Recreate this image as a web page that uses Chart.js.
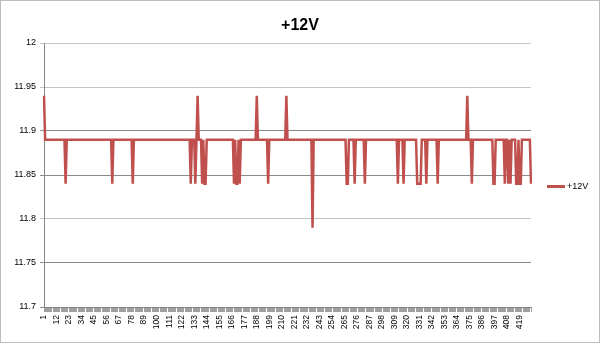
<!DOCTYPE html>
<html>
<head>
<meta charset="utf-8">
<script src="https://cdn.jsdelivr.net/npm/chart.js@4"></script>
<style>
  body { margin: 0; background: #fff; }
  #wrap { position: relative; width: 600px; height: 343px; font-family: "Liberation Sans", Arial, sans-serif; }
  #frame { position: absolute; left: 0; top: 0; width: 600px; height: 343px; box-sizing: border-box; border: 1px solid #bcbcbc; pointer-events: none; }
  #title { position: absolute; left: 0; width: 600px; top: 16px; text-align: center; font-weight: bold; font-size: 16px; color: #000; }
  #legend { position: absolute; left: 547px; top: 181px; font-size: 9px; color: #000; white-space: nowrap; }
  #legend .swatch { display: inline-block; width: 18px; height: 2.5px; background: #C0504D; vertical-align: middle; margin-right: 2px; }
</style>
</head>
<body>
<div id="wrap">
  <canvas id="myLineChart" width="600" height="343"></canvas>
  <div id="title">+12V</div>
  <div id="legend"><span class="swatch"></span>+12V</div>
  <div id="frame"></div>
</div>
<script>
// readings
const H = 11.94, B = 11.89, L = 11.84, M = 11.79;

const seriesName = '+12V';
const values = [
  H, B, B, B, B, B, B, B, B, B,   // 0
  B, B, B, B, B, B, B, B, B, L,   // 10
  B, B, B, B, B, B, B, B, B, B,   // 20
  B, B, B, B, B, B, B, B, B, B,   // 30
  B, B, B, B, B, B, B, B, B, B,   // 40
  B, B, B, B, B, B, B, B, B, B,   // 50
  L, B, B, B, B, B, B, B, B, B,   // 60
  B, B, B, B, B, B, B, B, L, B,   // 70
  B, B, B, B, B, B, B, B, B, B,   // 80
  B, B, B, B, B, B, B, B, B, B,   // 90
  B, B, B, B, B, B, B, B, B, B,   // 100
  B, B, B, B, B, B, B, B, B, B,   // 110
  B, B, B, B, B, B, B, B, B, L,   // 120
  B, B, B, L, B, H, B, B, B, L,   // 130
  B, L, L, B, B, B, B, B, B, B,   // 140
  B, B, B, B, B, B, B, B, B, B,   // 150
  B, B, B, B, B, B, B, L, B, L,   // 160
  L, B, L, B, B, B, B, B, B, B,   // 170
  B, B, B, B, B, B, B, H, B, B,   // 180
  B, B, B, B, B, B, B, L, B, B,   // 190
  B, B, B, B, B, B, B, B, B, B,   // 200
  B, B, B, H, B, B, B, B, B, B,   // 210
  B, B, B, B, B, B, B, B, B, B,   // 220
  B, B, B, B, B, B, M, B, B, B,   // 230
  B, B, B, B, B, B, B, B, B, B,   // 240
  B, B, B, B, B, B, B, B, B, B,   // 250
  B, B, B, B, B, B, L, L, B, B,   // 260
  B, B, B, L, B, B, B, B, B, B,   // 270
  B, B, L, B, B, B, B, B, B, B,   // 280
  B, B, B, B, B, B, B, B, B, B,   // 290
  B, B, B, B, B, B, B, B, B, B,   // 300
  B, L, B, B, B, B, L, B, B, B,   // 310
  B, B, B, B, B, B, B, B, L, L,   // 320
  L, L, B, B, B, B, L, B, B, B,   // 330
  B, B, B, B, B, B, L, B, B, B,   // 340
  B, B, B, B, B, B, B, B, B, B,   // 350
  B, B, B, B, B, B, B, B, B, B,   // 360
  B, B, H, B, B, B, L, B, B, B,   // 370
  B, B, B, B, B, B, B, B, B, B,   // 380
  B, B, B, B, B, L, L, B, B, B,   // 390
  B, B, B, B, B, L, B, B, L, B,   // 400
  L, B, B, B, B, L, L, B, L, L,   // 410
  B, B, B, B, B, B, B, B, L       // 420
];

// sample numbers 1..N, every 11th one is labelled
const categories = values.map((v, i) => String(i + 1));
const labelEvery = 11;
const yTicks = [11.7, 11.75, 11.8, 11.85, 11.9, 11.95, 12];
const lightLines = [12, 11.95, 11.8];

function initLineChart() {
    const ctx = document.getElementById('myLineChart');
    if (!ctx) return;
    new Chart(ctx, {
        type: 'line',
        data: {
            labels: categories,
            datasets: [{
                label: seriesName,
                data: values,
                borderColor: '#C0504D',
                borderWidth: 2.5,
                pointRadius: 0,
                tension: 0,
                fill: false
            }]
        },
        options: {
            responsive: false,
            animation: false,
            layout: { padding: { top: 43, right: 69, left: 0, bottom: 0 } },
            scales: {
                x: {
                    afterFit: (scale) => { scale.height = 36; },
                    grid: {
                        drawOnChartArea: false,
                        tickLength: 5,
                        color: '#a0a0a0'
                    },
                    border: { color: '#868686' },
                    ticks: {
                        autoSkip: false,
                        minRotation: 90,
                        maxRotation: 90,
                        padding: 3,
                        color: '#000',
                        font: { family: 'Liberation Sans', size: 8.5 },
                        callback: (value, index) => index % labelEvery === 0 ? categories[index] : ''
                    }
                },
                y: {
                    min: 11.7,
                    max: 12,
                    afterFit: (scale) => { scale.width = 44; },
                    afterBuildTicks: (scale) => { scale.ticks = yTicks.map(v => ({ value: v })); },
                    grid: {
                        tickLength: 4,
                        color: (c) => lightLines.includes(c.tick && c.tick.value) ? '#c4c4c4' : '#8a8a8a'
                    },
                    border: { color: '#868686' },
                    ticks: {
                        padding: 4,
                        color: '#000',
                        font: { family: 'Liberation Sans', size: 9 },
                        callback: (v) => String(Number(v.toFixed(2)))
                    }
                }
            },
            plugins: {
                legend: { display: false },
                title: { display: false },
                tooltip: { enabled: false }
            }
        }
    });
}

initLineChart();
</script>
</body>
</html>
